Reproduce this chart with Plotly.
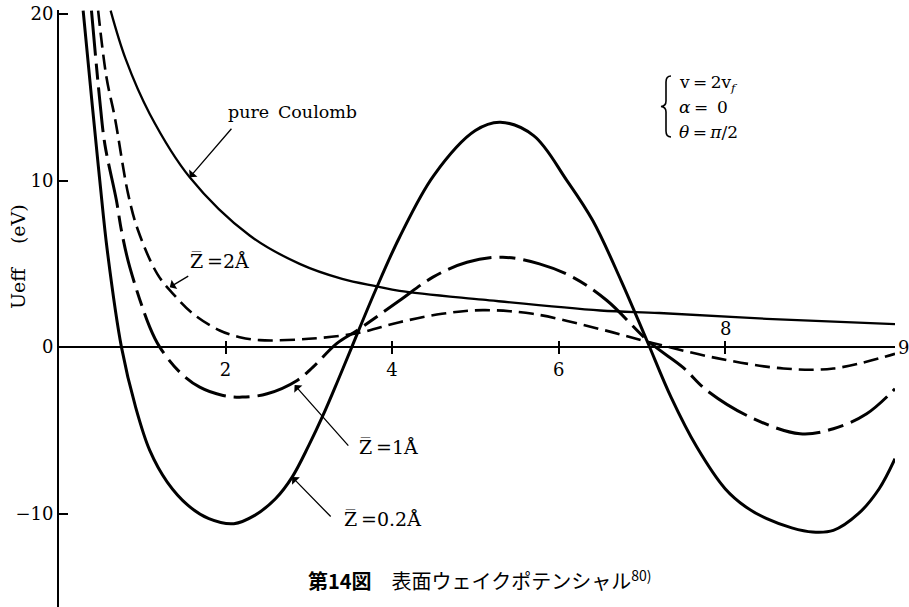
import plotly.graph_objects as go

# --- curve data: distance (x) vs effective potential Ueff in eV ---
coulomb_x = [0.62, 0.8, 1.09, 1.57, 2.29, 2.89, 3.4, 3.82, 4.09, 5.09, 6.5, 7.21, 8.5, 10.04]
coulomb_y = [20.2, 17.3, 14.0, 10.2, 6.7, 5.0, 4.1, 3.65, 3.38, 2.85, 2.2, 2.05, 1.7, 1.38]

z02_x = [0.29, 0.40, 0.49, 0.58, 0.75, 0.92, 1.09, 1.3, 1.55, 1.8, 2.1, 2.35, 2.6, 2.8, 3.0, 3.17, 3.35,
         3.52, 3.8, 4.09, 4.5, 5.0, 5.3, 5.7, 6.1, 6.41, 6.75, 7.06, 7.35, 7.66, 8.0, 8.25, 8.5, 8.8, 9.05,
         9.3, 9.6, 9.85, 10.04]
z02_y = [20.2, 14.5, 10.0, 5.8, 0.0, -3.6, -6.2, -8.1, -9.5, -10.3, -10.6, -10.1, -9.1, -7.8, -5.9, -4.1,
         -2.0, 0.05, 3.4, 6.6, 10.3, 13.0, 13.5, 12.7, 10.0, 7.6, 4.0, 0.4, -3.0, -6.0, -8.5, -9.6, -10.3,
         -10.85, -11.1, -11.0, -10.0, -8.5, -6.7]

z1_x = [0.39, 0.49, 0.55, 0.69, 0.75, 0.85, 1.09, 1.21, 1.45, 1.69, 1.97, 2.2, 2.5, 2.86, 3.05, 3.33, 3.58,
        4.09, 4.49, 4.9, 5.33, 5.77, 6.17, 6.58, 7.09, 7.49, 7.78, 8.3, 8.9, 9.3, 9.7, 10.04]
z1_y = [20.2, 14.8, 12.2, 8.8, 7.0, 4.8, 1.2, 0.0, -1.5, -2.4, -2.9, -3.0, -2.8, -2.0, -1.2, 0.2, 1.0,
        2.8, 4.2, 5.1, 5.4, 5.0, 4.2, 2.8, 0.3, -1.2, -2.6, -4.2, -5.2, -4.9, -4.0, -2.5]

z2_x = [0.47, 0.57, 0.67, 0.83, 0.95, 1.18, 1.37, 1.61, 1.93, 2.17, 2.41, 3.0, 3.58, 4.09, 4.6, 5.09,
        5.69, 6.5, 7.09, 7.9, 8.7, 9.3, 10.04]
z2_y = [20.2, 16.2, 13.8, 9.2, 7.0, 4.4, 3.2, 2.0, 1.0, 0.6, 0.42, 0.5, 0.84, 1.5, 2.0, 2.22,
        2.0, 1.08, 0.3, -0.66, -1.28, -1.28, -0.4]

x_ticks = [2, 4, 6, 8]
x_tick_text = ["2", "4", "6", ""]
y_ticks = [-10, 0, 10, 20]
y_tick_text = ["\u221210", "0", "10", "20"]

X_RANGE = [0, 10.04]
Y_RANGE = [-15.6, 20.24]
zero_pos = (0 - Y_RANGE[0]) / (Y_RANGE[1] - Y_RANGE[0])

W, H = 909, 607
ML, MR, MT, MB = 59, 14, 10, 0
PW, PH = W - ML - MR, H - MT - MB

SERIF = "DejaVu Serif"
CJK = "Noto Sans CJK JP"


def px(xp):
    """page pixel column -> paper x"""
    return (xp - ML) / PW


def py(yp):
    """page pixel row -> paper y"""
    return (H - MB - yp) / PH


fig = go.Figure()

fig.add_trace(go.Scatter(x=coulomb_x, y=coulomb_y, mode="lines",
                         line=dict(color="black", width=2.3, shape="spline"), name="pure Coulomb"))
fig.add_trace(go.Scatter(x=z2_x, y=z2_y, mode="lines",
                         line=dict(color="black", width=2.6, shape="spline", dash="15px,7px"), name="Z=2Å"))
fig.add_trace(go.Scatter(x=z1_x, y=z1_y, mode="lines",
                         line=dict(color="black", width=3, shape="spline", dash="45px,8px,16px,8px"), name="Z=1Å"))
fig.add_trace(go.Scatter(x=z02_x, y=z02_y, mode="lines",
                         line=dict(color="black", width=3, shape="spline"), name="Z=0.2Å"))
# companion axis carrying the upper half of the x tick marks
fig.add_trace(go.Scatter(x=[], y=[], xaxis="x2", showlegend=False))

annotations = []


def label_with_arrow(text, tip, tail_off, text_pos, size=19):
    """Curve label: text centred at text_pos (data), arrow drawn from tip+tail_off (pixels) to tip."""
    annotations.append(dict(x=tip[0], y=tip[1], xref="x", yref="y", text="", showarrow=True,
                            ax=tail_off[0], ay=tail_off[1], arrowhead=1, arrowsize=1.4, arrowwidth=1.3,
                            arrowcolor="black", standoff=0))
    annotations.append(dict(x=text_pos[0], y=text_pos[1], xref="x", yref="y", text=text, showarrow=False,
                            font=dict(family=SERIF, size=size, color="black"), xanchor="center", yanchor="middle"))


label_with_arrow("pure\u2002Coulomb", (1.57, 10.2), (43, -50), (2.80, 14.1), size=17.5)
label_with_arrow("Z\u0305\u2009=2\u00c5", (1.33, 3.6), (20, -12), (1.93, 5.2))
label_with_arrow("Z\u0305\u2009=1\u00c5", (2.83, -2.28), (55, 62), (3.96, -6.0))
label_with_arrow("Z\u0305\u2009=0.2\u00c5", (2.80, -7.8), (40, 41), (3.89, -10.3))

# x tick label for 8 sits above the axis, and the axis end is marked 9
annotations.append(dict(x=8, y=0, xref="x", yref="y", text="8", showarrow=False, yanchor="bottom", yshift=6,
                        font=dict(family=SERIF, size=18, color="black")))
annotations.append(dict(x=1, y=0, xref="paper", yref="y", text="9", showarrow=False, xanchor="left", xshift=1,
                        font=dict(family=SERIF, size=18, color="black")))

# y axis title
annotations.append(dict(x=px(18), y=py(257), xref="paper", yref="paper",
                        text="Ueff\u00a0\u00a0\u00a0\u00a0(eV)", textangle=-90, showarrow=False,
                        font=dict(family=SERIF, size=19, color="black"), xanchor="center", yanchor="middle"))

# parameter block at upper right
for txt, row in [("v\u2009=\u20092v<sub><i>f</i></sub>", 83), ("<i>\u03b1</i>\u2009=\u2009 0", 107),
                 ("<i>\u03b8</i>\u2009=\u2009<i>\u03c0</i>/2", 132)]:
    annotations.append(dict(x=px(677), y=py(row), xref="paper", yref="paper", text=txt,
                            showarrow=False, font=dict(family=SERIF, size=17, color="black"),
                            xanchor="left", yanchor="middle"))

# figure caption
annotations.append(dict(x=px(480), y=py(580), xref="paper", yref="paper",
                        text="<b>第14図</b>\u3000表面ウェイクポテンシャル<sup>80)</sup>", showarrow=False,
                        font=dict(family=CJK, size=20, color="black"), xanchor="center", yanchor="middle"))

# curly brace grouping the parameter block
brace = (f"M {px(671)},{py(76)} Q {px(666)},{py(76)} {px(666)},{py(82)} "
         f"L {px(666)},{py(101)} Q {px(666)},{py(106)} {px(661)},{py(106.5)} "
         f"Q {px(666)},{py(107)} {px(666)},{py(112)} L {px(666)},{py(131)} "
         f"Q {px(666)},{py(137)} {px(671)},{py(137)}")

fig.update_layout(
    width=W, height=H,
    margin=dict(l=ML, r=MR, t=MT, b=MB),
    paper_bgcolor="white", plot_bgcolor="white",
    showlegend=False,
    xaxis=dict(range=X_RANGE, anchor="free", position=zero_pos, showline=True, linecolor="black", linewidth=2,
               ticks="outside", ticklen=6, tickwidth=2, tickcolor="black", tickvals=x_ticks, ticktext=x_tick_text,
               tickfont=dict(family=SERIF, size=18, color="black"), showgrid=False, zeroline=False),
    xaxis2=dict(range=X_RANGE, overlaying="x", matches="x", anchor="free", position=zero_pos, side="top",
                ticks="outside", ticklen=6, tickwidth=2, tickcolor="black", tickvals=x_ticks,
                showticklabels=False, showline=False, showgrid=False, zeroline=False),
    yaxis=dict(range=Y_RANGE, showline=True, linecolor="black", linewidth=2, ticks="inside", ticklen=9,
               tickwidth=2, tickcolor="black", tickvals=y_ticks, ticktext=y_tick_text,
               tickfont=dict(family=SERIF, size=18, color="black"), showgrid=False, zeroline=False),
    annotations=annotations,
    shapes=[dict(type="path", path=brace, xref="paper", yref="paper", line=dict(color="black", width=1.6))],
)

fig.write_html("out.html")
